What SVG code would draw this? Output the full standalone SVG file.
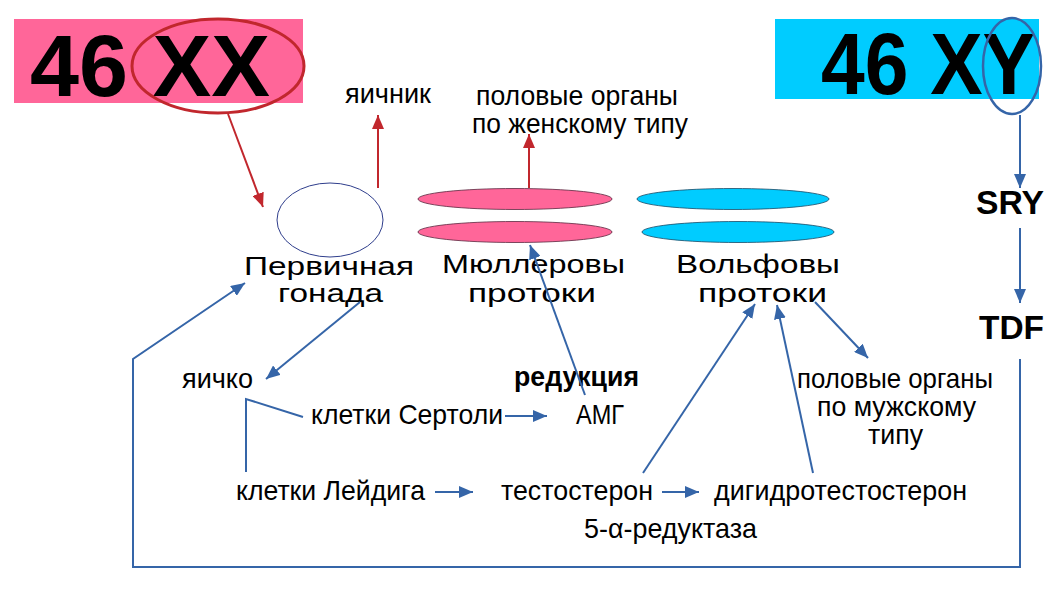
<svg xmlns="http://www.w3.org/2000/svg" width="1058" height="595" viewBox="0 0 1058 595">
<style>
.t{font-family:"Liberation Sans",Arial,sans-serif;font-size:28px;fill:#000}
.w{font-family:"Liberation Sans",Arial,sans-serif;font-size:25px;fill:#000}
.b{font-weight:bold}
.sry{font-family:"Liberation Sans",Arial,sans-serif;font-weight:bold;font-size:33px;fill:#000}
.big{font-family:"Liberation Sans",Arial,sans-serif;font-weight:bold;font-size:87px;fill:#000}
.red{stroke:#C1272D;stroke-width:2;fill:none}
.blue{stroke:#3565A8;stroke-width:2;fill:none}
</style>
<defs>
<marker id="ar" markerUnits="userSpaceOnUse" markerWidth="14" markerHeight="12" refX="14" refY="6" orient="auto"><path d="M0,0 L14,6 L0,12 z" fill="#C1272D"/></marker>
<marker id="ab" markerUnits="userSpaceOnUse" markerWidth="14" markerHeight="12" refX="14" refY="6" orient="auto"><path d="M0,0 L14,6 L0,12 z" fill="#3565A8"/></marker>
</defs>
<rect width="1058" height="595" fill="#fff"/>

<g id="xx">
<rect x="14" y="19" width="289" height="84" fill="#FF6699"/>
<text class="big" x="30" y="96" textLength="240" lengthAdjust="spacingAndGlyphs">46 XX</text>
<ellipse cx="218" cy="66" rx="86" ry="47" fill="none" stroke="#C1272D" stroke-width="3"/>
</g>
<g id="xy">
<rect x="775" y="19" width="264" height="80" fill="#00CCFF"/>
<text class="big" x="821" y="94" textLength="214" lengthAdjust="spacingAndGlyphs">46 XY</text>
<ellipse cx="1012" cy="66" rx="29" ry="48" fill="none" stroke="#3565A8" stroke-width="2.5"/>
</g>
<g id="sry"><text class="sry" x="976" y="214" textLength="68" lengthAdjust="spacingAndGlyphs">SRY</text></g>
<g id="tdf"><text class="sry" x="979" y="339" textLength="65" lengthAdjust="spacingAndGlyphs">TDF</text></g>

<g id="ovary"><text class="t" x="345" y="103" textLength="86" lengthAdjust="spacingAndGlyphs">яичник</text></g>
<g id="female">
<text class="t" x="476" y="105" textLength="202" lengthAdjust="spacingAndGlyphs">половые органы</text>
<text class="t" x="472" y="133" textLength="216" lengthAdjust="spacingAndGlyphs">по женскому типу</text>
</g>

<g id="gonad">
<ellipse cx="330" cy="220" rx="53" ry="37" fill="#fff" stroke="#2F3E8C" stroke-width="1"/>
<text class="w" x="244" y="275" textLength="170" lengthAdjust="spacingAndGlyphs">Первичная</text>
<text class="w" x="278" y="302" textLength="105" lengthAdjust="spacingAndGlyphs">гонада</text>
</g>
<g id="muller">
<ellipse cx="515" cy="199" rx="97" ry="10.5" fill="#FF6699" stroke="#5a2a40" stroke-width="0.8"/>
<ellipse cx="515" cy="232" rx="97" ry="10.5" fill="#FF6699" stroke="#5a2a40" stroke-width="0.8"/>
<text class="w" x="442" y="273" textLength="183" lengthAdjust="spacingAndGlyphs">Мюллеровы</text>
<text class="w" x="468" y="302" textLength="128" lengthAdjust="spacingAndGlyphs">протоки</text>
</g>
<g id="wolff">
<ellipse cx="733" cy="199" rx="96" ry="10.5" fill="#00CCFF" stroke="#1a4a66" stroke-width="0.8"/>
<ellipse cx="738" cy="232" rx="96" ry="10.5" fill="#00CCFF" stroke="#1a4a66" stroke-width="0.8"/>
<text class="w" x="676" y="273" textLength="164" lengthAdjust="spacingAndGlyphs">Вольфовы</text>
<text class="w" x="698" y="302" textLength="129" lengthAdjust="spacingAndGlyphs">протоки</text>
</g>

<g id="testis"><text class="t" x="182" y="388" textLength="71" lengthAdjust="spacingAndGlyphs">яичко</text></g>
<g id="sertoli"><text class="t" x="311" y="424" textLength="192" lengthAdjust="spacingAndGlyphs">клетки Сертоли</text></g>
<g id="reduction"><text class="t b" x="514" y="386" textLength="125" lengthAdjust="spacingAndGlyphs">редукция</text></g>
<g id="amg"><text class="t" x="576" y="424" textLength="48" lengthAdjust="spacingAndGlyphs">АМГ</text></g>
<g id="leydig"><text class="t" x="236" y="500" textLength="189" lengthAdjust="spacingAndGlyphs">клетки Лейдига</text></g>
<g id="testosterone"><text class="t" x="501" y="500" textLength="152" lengthAdjust="spacingAndGlyphs">тестостерон</text></g>
<g id="dht"><text class="t" x="714" y="500" textLength="253" lengthAdjust="spacingAndGlyphs">дигидротестостерон</text></g>
<g id="reductase"><text class="t" x="584" y="538" textLength="173" lengthAdjust="spacingAndGlyphs">5-α-редуктаза</text></g>
<g id="male">
<text class="t" x="797" y="388" textLength="196" lengthAdjust="spacingAndGlyphs">половые органы</text>
<text class="t" x="817" y="416" textLength="159" lengthAdjust="spacingAndGlyphs">по мужскому</text>
<text class="t" x="868" y="444" textLength="55" lengthAdjust="spacingAndGlyphs">типу</text>
</g>

<g id="connectors">
<line class="red" x1="228" y1="114" x2="263" y2="207" marker-end="url(#ar)"/>
<line class="red" x1="378" y1="188" x2="378" y2="115" marker-end="url(#ar)"/>
<line class="red" x1="529" y1="188" x2="529" y2="134" marker-end="url(#ar)"/>
<line class="blue" x1="1020" y1="115" x2="1020" y2="188" marker-end="url(#ab)"/>
<line class="blue" x1="1020" y1="228" x2="1020" y2="303" marker-end="url(#ab)"/>
<polyline class="blue" points="1020,359 1020,567 133,567 133,359 245,283" marker-end="url(#ab)"/>
<line class="blue" x1="360" y1="302" x2="266" y2="379" marker-end="url(#ab)"/>
<polyline class="blue" points="303,417 246,399 246,472"/>
<line class="blue" x1="505" y1="416" x2="547" y2="416" marker-end="url(#ab)"/>
<line class="blue" x1="435" y1="492" x2="473" y2="492" marker-end="url(#ab)"/>
<line class="blue" x1="662" y1="492" x2="699" y2="492" marker-end="url(#ab)"/>
<line class="blue" x1="585" y1="395" x2="530" y2="245" marker-end="url(#ab)"/>
<line class="blue" x1="643" y1="473" x2="755" y2="304" marker-end="url(#ab)"/>
<line class="blue" x1="813" y1="473" x2="777" y2="305" marker-end="url(#ab)"/>
<line class="blue" x1="815" y1="302" x2="868" y2="358" marker-end="url(#ab)"/>
</g>
</svg>
